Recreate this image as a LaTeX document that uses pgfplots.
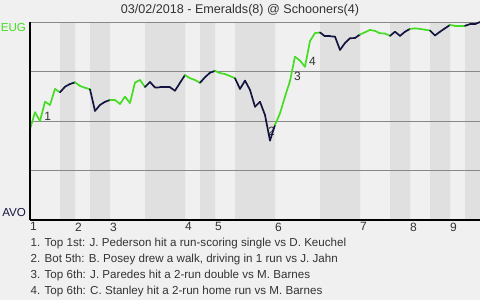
\documentclass[border=0pt]{standalone}
\usepackage{fontspec}
\setmainfont{Liberation Sans}
\usepackage{pgfplots}
\usepackage{pgfplotstable}
\pgfplotsset{compat=1.18}

\definecolor{eug}{HTML}{44DD22}
\definecolor{avo}{HTML}{141440}
\definecolor{bg}{HTML}{F0F0F0}
\definecolor{band}{HTML}{E0E0E0}
\definecolor{gridc}{HTML}{888888}
\definecolor{txt}{HTML}{333333}

% win probability for EUG after each plate appearance; half = 0 top, 1 bottom
\pgfplotstableread{
pa wp half
0 0.458 0
1 0.544 0
2 0.500 0
3 0.597 0
4 0.581 0
5 0.662 0
6 0.645 1
7 0.673 1
8 0.687 1
9 0.695 0
10 0.677 0
11 0.668 0
12 0.660 1
13 0.551 1
14 0.581 1
15 0.597 1
16 0.606 0
17 0.606 0
18 0.586 0
19 0.623 0
20 0.591 0
21 0.694 0
22 0.707 0
23 0.672 1
24 0.697 1
25 0.669 1
26 0.670 1
27 0.670 1
28 0.670 1
29 0.653 1
30 0.693 1
31 0.732 0
32 0.716 0
33 0.707 0
34 0.693 1
35 0.721 1
36 0.744 1
37 0.753 0
38 0.742 0
39 0.737 0
40 0.727 0
41 0.716 1
42 0.662 1
43 0.704 1
44 0.657 1
45 0.572 1
46 0.597 1
47 0.530 1
48 0.401 1
49 0.480 0
50 0.539 0
51 0.623 0
52 0.702 0
53 0.825 0
54 0.805 0
55 0.774 0
56 0.904 0
57 0.944 0
58 0.947 1
59 0.928 1
60 0.928 1
61 0.926 1
62 0.859 1
63 0.894 1
64 0.918 1
65 0.919 1
66 0.937 0
67 0.948 0
68 0.960 0
69 0.955 0
70 0.943 0
71 0.942 0
72 0.930 1
73 0.951 1
74 0.930 1
75 0.951 1
76 0.965 0
77 0.968 0
78 0.965 0
79 0.961 0
80 0.957 1
81 0.932 1
82 0.951 1
83 0.968 1
84 0.985 0
85 0.981 0
86 0.981 0
87 0.981 1
88 0.989 1
89 0.989 1
90 1.000 1
}\wpdata

% half-inning starts; bottom halves get the darker band
\pgfplotstableread{
x dark
0 0
6 1
9 0
12 1
16 0
23 1
31 0
34 1
37 0
41 1
49 0
58 1
66 0
72 1
76 0
80 1
84 0
87 1
90 1
}\bands

\begin{document}
\begin{tikzpicture}
\fill[bg] (0,0) rectangle (480pt,-300pt);

\node[anchor=base, text=txt, font=\fontsize{12.6}{15}\selectfont, inner sep=0pt]
  at (240pt,-13.3pt) {03/02/2018 - Emeralds(8) @ Schooners(4)};

\begin{axis}[
  at={(30pt,-220pt)}, anchor=south west,
  scale only axis, width=450pt, height=198pt,
  xmin=0, xmax=90, ymin=0, ymax=1,
  axis on top,
  clip=false,
  axis lines=left,
  axis line style={-, black, line width=1.2pt},
  ytick=\empty,
  xtick={0,9,16,31,37,49,66,76,84},
  xticklabels={1,2,3,4,5,6,7,8,9},
  major tick length=0pt,
  xticklabel style={anchor=north west, inner sep=0pt, yshift=-2.5pt,
    text=txt, font=\fontsize{12}{14}\selectfont},
  colormap={wpmap}{color(0)=(eug) color(1)=(avo)},
  point meta min=0, point meta max=1,
]
% half-inning shading
\addplot[const plot, fill=band, draw=none]
  table[x=x, y=dark] {\bands} \closedcycle;

% quarter lines
\addplot[gridc, line width=1pt] coordinates {(0,0.25) (90,0.25)};
\addplot[gridc, line width=1pt] coordinates {(0,0.5) (90,0.5)};
\addplot[gridc, line width=1pt] coordinates {(0,0.75) (90,0.75)};
\addplot[gridc, line width=1pt] coordinates {(0,1) (90,1)};

\node[text=txt, font=\fontsize{12}{14}\selectfont] at (axis cs:3.54,0.522) {1};
\node[text=txt, font=\fontsize{12}{14}\selectfont] at (axis cs:48.3,0.446) {2};
\node[text=txt, font=\fontsize{12}{14}\selectfont] at (axis cs:53.5,0.727) {3};
\node[text=txt, font=\fontsize{12}{14}\selectfont] at (axis cs:56.5,0.803) {4};

\addplot[mesh, shader=flat corner, point meta=\thisrow{half},
  line width=1.7pt, line cap=round, line join=round]
  table[x=pa, y=wp] {\wpdata};

\node[anchor=north east, inner sep=0pt, text=eug, font=\fontsize{11.6}{14}\selectfont]
  at (rel axis cs:0,1) [xshift=-3.8pt, yshift=-1.3pt] {EUG};
\node[anchor=south east, inner sep=0pt, text=avo, font=\fontsize{11.6}{14}\selectfont]
  at (rel axis cs:0,0) [xshift=-3.8pt, yshift=2.7pt] {AVO};
\end{axis}

\begin{scope}[font=\fontsize{11.6}{14}\selectfont, text=txt]
\node[anchor=base west, inner sep=0pt] at (30.5pt,-246pt) {1. Top 1st: J. Pederson hit a run-scoring single vs D. Keuchel};
\node[anchor=base west, inner sep=0pt] at (30.5pt,-262pt) {2. Bot 5th: B. Posey drew a walk, driving in 1 run vs J. Jahn};
\node[anchor=base west, inner sep=0pt] at (30.5pt,-278pt) {3. Top 6th: J. Paredes hit a 2-run double vs M. Barnes};
\node[anchor=base west, inner sep=0pt] at (30.5pt,-294pt) {4. Top 6th: C. Stanley hit a 2-run home run vs M. Barnes};
\end{scope}
\pgfresetboundingbox
\path[use as bounding box] (0,0) rectangle (480pt,-300pt);
\end{tikzpicture}
\end{document}
